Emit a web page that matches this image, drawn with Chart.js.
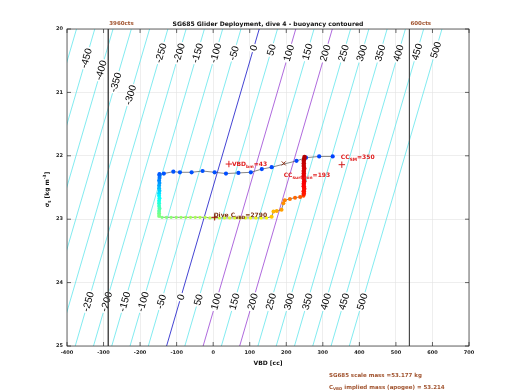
<!DOCTYPE html>
<html><head><meta charset="utf-8">
<script src="https://cdn.jsdelivr.net/npm/chart.js@4"></script>
<style>html,body{margin:0;padding:0;background:#fff}canvas{display:block}</style>
</head><body>
<canvas id="c" width="520" height="390"></canvas>
<script>
// ---------- data ----------
const vbdTicks = [-400,-300,-200,-100,0,100,200,300,400,500,600,700];
const sigmaTicks = [20,21,22,23,24,25];
const contourLevels = [-500,-450,-400,-350,-300,-250,-200,-150,-100,-50,0,50,100,150,200,250,300,350,400,450,500];
// VBD of neutral buoyancy (level 0) at the top and bottom density
const neutralSigma = [20, 25];
const neutralVBD = [126, -127.5];
const topLabelLevels = [-450,-400,-350,-300,-250,-200,-150,-100,-50,0,50,100,150,200,250,300,350,400,450,500];
const topLabelSigma  = [20.46,20.65,20.84,21.04,20.38,20.38,20.38,20.38,20.38,20.30,20.33,20.38,20.36,20.38,20.38,20.38,20.38,20.38,20.36,20.33];
const bottomLabelLevels = [-250,-200,-150,-100,-50,0,50,100,150,200,250,300,350,400,450,500];
const bottomLabelSigma  = [24.30,24.30,24.30,24.30,24.30,24.23,24.27,24.30,24.30,24.30,24.30,24.30,24.30,24.30,24.30,24.30];
const pumpLimitVBD = [-287, 537];
const pumpLimitLabels = ['3960cts', '600cts'];

const leg1VBD   = [327, 290, 254, 228, 160, 133, 103, 69, 35, 4, -29, -59, -91, -109, -135, -147];
const leg1Sigma = [22.01, 22.01, 22.03, 22.08, 22.18, 22.21, 22.26, 22.27, 22.28, 22.26, 22.24, 22.26, 22.26, 22.25, 22.28, 22.29];
const leg2VBD   = [-147, -147, -148, -147, -148, -148, -147, -148, -148, -147, -148, -148, -148, -147, -148, -148, -148];
const leg2Sigma = [22.31, 22.35, 22.39, 22.43, 22.47, 22.51, 22.55, 22.59, 22.63, 22.67, 22.71, 22.75, 22.79, 22.83, 22.87, 22.91, 22.95];
const leg3VBD   = [-140, -128, -115, -101, -88, -75, -62, -49, -36, -22, -9, 4, 17, 31, 45, 59, 73, 88, 102, 117, 131, 146];
const leg3Sigma = [22.97, 22.97, 22.97, 22.97, 22.97, 22.97, 22.97, 22.97, 22.97, 22.97, 22.98, 22.98, 22.98, 22.98, 22.98, 22.98, 22.98, 22.98, 22.98, 22.98, 22.98, 22.98];
const leg4VBD   = [160, 165, 174, 187, 192, 196, 210, 224, 238, 247];
const leg4Sigma = [22.96, 22.88, 22.87, 22.85, 22.75, 22.70, 22.68, 22.66, 22.65, 22.63];
const leg5VBD   = [248, 248, 249, 248, 248, 249, 248, 248, 248, 248, 249, 248, 248, 248, 249, 250];
const leg5Sigma = [22.60, 22.56, 22.52, 22.48, 22.44, 22.40, 22.36, 22.32, 22.28, 22.24, 22.20, 22.16, 22.12, 22.08, 22.05, 22.02];

// annotations: VBD_bm, CC_SM, CC_surf,min, apogee
const markVBD   = [43, 352, 193, 4];
const markSigma = [22.13, 22.14, 22.12, 22.97];
const vbdBm = 43, ccSM = 350, ccSurfMin = 193, diveCVBD = 2790;
const scaleMass = '53.177', impliedMass = '53.214';

// ---------- helpers ----------
function jet(t){
  const c = v => Math.max(0, Math.min(1, v));
  const r = c(Math.min(4*t-1.5, -4*t+4.5)), g = c(Math.min(4*t-0.5, -4*t+3.5)), b = c(Math.min(4*t+0.5, -4*t+2.5));
  return `rgb(${Math.round(r*255)},${Math.round(g*255)},${Math.round(b*255)})`;
}
const pts = (v, s) => v.map((x, i) => ({x, y: s[i]}));
const legs = [
  {v: leg1VBD, s: leg1Sigma, t0: 0.19, t1: 0.21, r: 2.1},
  {v: leg2VBD, s: leg2Sigma, t0: 0.22, t1: 0.50, r: 2.0},
  {v: leg3VBD, s: leg3Sigma, t0: 0.50, t1: 0.62, r: 1.6},
  {v: leg4VBD, s: leg4Sigma, t0: 0.68, t1: 0.80, r: 2.0},
  {v: leg5VBD, s: leg5Sigma, t0: 0.85, t1: 0.95, r: 2.3}
];
const allPts = [], allCols = [], allRad = [];
legs.forEach(L => {
  const n = L.v.length;
  L.v.forEach((x, i) => {
    allPts.push({x, y: L.s[i]});
    allCols.push(jet(L.t0 + (L.t1 - L.t0) * (n > 1 ? i/(n-1) : 0)));
    allRad.push(L.r);
  });
});

const FAM = '"DejaVu Sans", sans-serif';
function rich(ctx, x, y, parts, size, color, align){
  const fontFor = m => `bold ${m ? size*0.72 : size}px ${FAM}`;
  let total = 0;
  for (const [s, m] of parts){ ctx.font = fontFor(m); total += ctx.measureText(s).width; }
  let cx = align === 'center' ? x - total/2 : x;
  ctx.fillStyle = color; ctx.textAlign = 'left'; ctx.textBaseline = 'alphabetic';
  for (const [s, m] of parts){
    ctx.font = fontFor(m);
    ctx.fillText(s, cx, y + (m === -1 ? size*0.35 : m === 1 ? -size*0.45 : 0));
    cx += ctx.measureText(s).width;
  }
}

// ---------- datasets ----------
const contourColor = l => l === 0 ? '#1414c8' : (l === 100 || l === 200) ? '#9a44d4' : '#62e6ec';
const contourSets = contourLevels.map(l => ({
  label: 'c' + l, isContour: true, showLine: true,
  data: neutralSigma.map((s, i) => ({x: l + neutralVBD[i], y: s})),
  borderColor: contourColor(l), borderWidth: 0.8, pointRadius: 0, order: 10
}));
const limitSets = pumpLimitVBD.map(v => ({
  label: 'lim', showLine: true, data: [{x: v, y: sigmaTicks[0]}, {x: v, y: sigmaTicks[sigmaTicks.length-1]}],
  borderColor: '#4a4a4a', borderWidth: 0.9, pointRadius: 0, order: 5
}));
const trackLine = {label: 'track', showLine: true, data: allPts, borderColor: '#505050', borderWidth: 0.7, pointRadius: 0, order: 2};
const trackPts = {label: 'pts', showLine: false, data: allPts, pointBackgroundColor: allCols, pointBorderWidth: 0, pointRadius: allRad, order: 1};
const marks = {label: 'marks', showLine: false, data: pts(markVBD, markSigma),
  pointStyle: ['cross', 'cross', 'crossRot', 'cross'], pointRadius: [3.2, 3.2, 2.8, 3.2],
  pointBorderColor: ['#e02020', '#d02020', '#8a2a10', '#a01010'], pointBorderWidth: 1, order: 0};

let contoursDrawn = 0;
const deco = {
  id: 'deco',
  beforeDatasetsDraw(){ contoursDrawn = 0; },
  afterDatasetDraw(chart, args){
    const ds = chart.data.datasets[args.index];
    if (!ds.isContour) return;
    contoursDrawn++;
    if (contoursDrawn !== contourSets.length) return;
    const xs = chart.scales.x, ys = chart.scales.y, ctx = chart.ctx, ca = chart.chartArea;
    const ax = xs.getPixelForValue(neutralVBD[0]), ay = ys.getPixelForValue(neutralSigma[0]);
    const bx = xs.getPixelForValue(neutralVBD[1]), by = ys.getPixelForValue(neutralSigma[1]);
    const ang = Math.atan2(ay - by, ax - bx);
    const vAt = (lvl, s) => lvl + neutralVBD[0] + (neutralVBD[1] - neutralVBD[0]) * (s - neutralSigma[0]) / (neutralSigma[1] - neutralSigma[0]);
    ctx.save();
    ctx.beginPath(); ctx.rect(ca.left, ca.top, ca.right - ca.left, ca.bottom - ca.top); ctx.clip();
    ctx.font = '10px "Liberation Sans", Arial, sans-serif';
    ctx.textAlign = 'center'; ctx.textBaseline = 'middle';
    const draw = (lvl, s) => {
      const px = xs.getPixelForValue(vAt(lvl, s)), py = ys.getPixelForValue(s);
      const txt = String(lvl);
      const w = ctx.measureText(txt).width;
      ctx.save(); ctx.translate(px, py); ctx.rotate(ang);
      ctx.fillStyle = '#fff'; ctx.fillRect(-w/2 - 1.5, -4.5, w + 3, 9);
      ctx.fillStyle = '#000'; ctx.fillText(txt, 0, 0.5);
      ctx.restore();
    };
    topLabelLevels.forEach((l, i) => draw(l, topLabelSigma[i]));
    bottomLabelLevels.forEach((l, i) => draw(l, bottomLabelSigma[i]));
    ctx.restore();
  },
  afterDraw(chart){
    const ctx = chart.ctx, ca = chart.chartArea, xs = chart.scales.x, ys = chart.scales.y;
    ctx.save();
    // frame + inward ticks
    ctx.strokeStyle = '#262626'; ctx.lineWidth = 0.7;
    ctx.strokeRect(ca.left, ca.top, ca.right - ca.left, ca.bottom - ca.top);
    ctx.beginPath();
    vbdTicks.forEach(v => { const p = xs.getPixelForValue(v);
      ctx.moveTo(p, ca.bottom); ctx.lineTo(p, ca.bottom - 4); ctx.moveTo(p, ca.top); ctx.lineTo(p, ca.top + 4); });
    sigmaTicks.forEach(v => { const p = ys.getPixelForValue(v);
      ctx.moveTo(ca.left, p); ctx.lineTo(ca.left + 4, p); ctx.moveTo(ca.right, p); ctx.lineTo(ca.right - 4, p); });
    ctx.stroke();
    // title
    const cx = (ca.left + ca.right) / 2;
    rich(ctx, cx, 26, [['SG685 Glider Deployment, dive 4 - buoyancy contoured', 0]], 6.1, '#111', 'center');
    // pump limit labels
    pumpLimitVBD.forEach((v, i) => rich(ctx, xs.getPixelForValue(v) + 1, 24.5, [[pumpLimitLabels[i], 0]], 5.5, '#a0522d'));
    // axis titles
    rich(ctx, cx, 365, [['VBD [cc]', 0]], 6, '#111', 'center');
    ctx.save(); ctx.translate(49, (ca.top + ca.bottom) / 2 + 2); ctx.rotate(-Math.PI / 2);
    rich(ctx, 0, 0, [['\u03c3', 0], ['t', -1], [' [kg m', 0], ['-3', 1], [']', 0]], 6, '#111', 'center');
    ctx.restore();
    // annotations
    const mp = i => [xs.getPixelForValue(markVBD[i]), ys.getPixelForValue(markSigma[i])];
    let p = mp(0);
    rich(ctx, p[0] + 3, p[1] + 2, [['VBD', 0], ['bm', -1], ['=' + vbdBm, 0]], 6, '#e02020');
    p = mp(1);
    rich(ctx, p[0] - 1, p[1] - 6, [['CC', 0], ['SM', -1], ['=' + ccSM, 0]], 6, '#e02020');
    p = mp(2);
    rich(ctx, p[0], p[1] + 13.5, [['CC', 0], ['surf,min', -1], ['=' + ccSurfMin, 0]], 6, '#e02020');
    p = mp(3);
    rich(ctx, p[0] - 1, p[1] - 0.5, [['Dive C', 0], ['VBD', -1], ['=' + diveCVBD, 0]], 6, '#7e3414');
    // bottom notes
    rich(ctx, 329, 377, [['SG685 scale mass =' + scaleMass + ' kg', 0]], 5.5, '#a0522d');
    rich(ctx, 329, 388.5, [['C', 0], ['VBD', -1], [' implied mass (apogee) = ' + impliedMass, 0]], 5.5, '#a0522d');
    ctx.restore();
  }
};

const tickFont = {family: FAM, size: 5, weight: 'bold'};
new Chart(document.getElementById('c'), {
  type: 'scatter',
  data: {datasets: [marks, trackPts, trackLine, ...limitSets, ...contourSets]},
  options: {
    responsive: false, animation: false, devicePixelRatio: 1,
    layout: {padding: {top: 29, right: 51, left: 0, bottom: 0}},
    plugins: {legend: {display: false}, tooltip: {enabled: false}},
    scales: {
      x: {type: 'linear', min: vbdTicks[0], max: vbdTicks[vbdTicks.length-1],
        afterBuildTicks: s => { s.ticks = vbdTicks.map(v => ({value: v})); },
        afterFit: s => { s.height = 44; },
        grid: {color: '#e2e2e2', lineWidth: 0.6, drawTicks: false},
        border: {display: false},
        ticks: {font: tickFont, color: '#262626', padding: 4, maxRotation: 0, autoSkip: false}},
      y: {type: 'linear', reverse: true, min: sigmaTicks[0], max: sigmaTicks[sigmaTicks.length-1],
        afterBuildTicks: s => { s.ticks = sigmaTicks.map(v => ({value: v})); },
        afterFit: s => { s.width = 67; },
        grid: {color: '#e2e2e2', lineWidth: 0.6, drawTicks: false},
        border: {display: false},
        ticks: {font: tickFont, color: '#262626', padding: 4, autoSkip: false}}
    }
  },
  plugins: [deco]
});
</script>
</body></html>
